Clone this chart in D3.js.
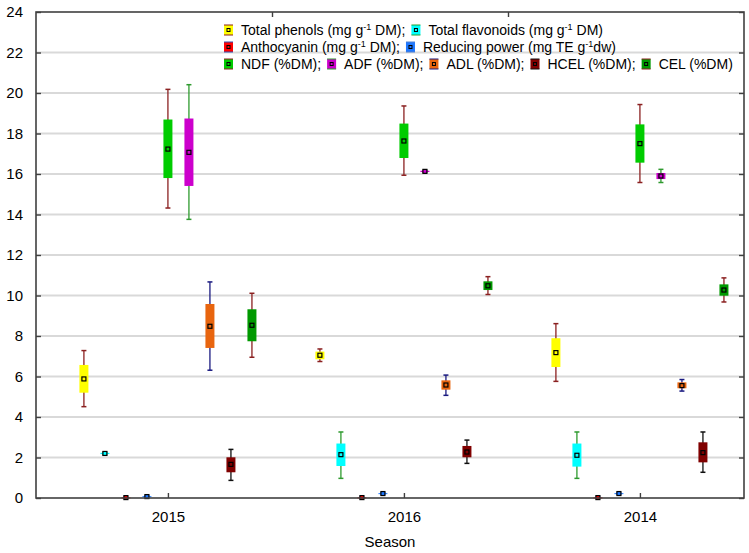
<!DOCTYPE html>
<html>
<head>
<meta charset="utf-8">
<script src="https://cdn.jsdelivr.net/npm/d3@7"></script>
<style>
body { margin: 0; background: #fff; }
text { font-family: "Liberation Sans", Arial, sans-serif; fill: #000; }
</style>
</head>
<body>
<svg id="svg"></svg>
<script>
const seasons = ["2015", "2016", "2014"]
const yTicks = d3.range(0, 25, 2)

// per season: [whisker low, box low, mean, box high, whisker high]
const phenols     = [[4.51, 5.20, 5.88, 6.57, 7.28], [6.74, 6.85, 7.05, 7.23, 7.36], [5.76, 6.47, 7.18, 7.89, 8.61]]
const flavonoids  = [[2.14, 2.17, 2.20, 2.23, 2.26], [0.97, 1.58, 2.14, 2.69, 3.26], [0.97, 1.55, 2.11, 2.69, 3.26]]
const anthocyanin = [[0.00, 0.01, 0.02, 0.03, 0.04], [0.00, 0.01, 0.02, 0.03, 0.04], [0.00, 0.01, 0.02, 0.03, 0.04]]
const reducing    = [[0.03, 0.05, 0.07, 0.09, 0.11], [0.18, 0.20, 0.22, 0.24, 0.26], [0.18, 0.20, 0.22, 0.24, 0.26]]
const ndf         = [[14.32, 15.80, 17.23, 18.69, 20.18], [15.94, 16.79, 17.63, 18.49, 19.36], [15.58, 16.56, 17.50, 18.45, 19.43]]
const adf         = [[13.76, 15.41, 17.07, 18.74, 20.41], [16.08, 16.10, 16.13, 16.16, 16.18], [15.58, 15.75, 15.90, 16.05, 16.23]]
const adl         = [[6.31, 7.41, 8.48, 9.58, 10.67], [5.07, 5.35, 5.58, 5.81, 6.07], [5.28, 5.42, 5.55, 5.71, 5.85]]
const hcel        = [[0.87, 1.27, 1.66, 2.01, 2.40], [1.71, 2.01, 2.27, 2.57, 2.86], [1.27, 1.76, 2.24, 2.75, 3.26]]
const cel         = [[6.95, 7.74, 8.53, 9.32, 10.11], [10.05, 10.27, 10.48, 10.70, 10.93], [9.68, 9.99, 10.27, 10.55, 10.87]]

const series = [phenols, flavonoids, anthocyanin, reducing, ndf, adf, adl, hcel, cel]

// legend text: [before superscript, superscript, after]
const seriesNames = [
    ["Total phenols (mg g", "-1", " DM)"],
    ["Total flavonoids (mg g", "-1", " DM)"],
    ["Anthocyanin (mg g", "-1", " DM)"],
    ["Reducing power (mg TE g", "-1", "dw)"],
    ["NDF (%DM)", "", ""],
    ["ADF (%DM)", "", ""],
    ["ADL (%DM)", "", ""],
    ["HCEL (%DM)", "", ""],
    ["CEL (%DM)", "", ""]
]
const legendRows = [[0, 1], [2, 3], [4, 5, 6, 7, 8]]

const boxColors = ["#ffff00", "#00ffff", "#ff0000", "#1e78ff", "#00cc00", "#cc00cc", "#e8650f", "#800000", "#009900"]
const whiskerColors = ["#8b2020", "#2e9a2e", "#3050b0", "#5080d0", "#8b2020", "#2e9a2e", "#1a1a80", "#101010", "#8b2020"]

const width = 749, height = 553
const margin = {top: 12, right: 5, bottom: 55, left: 36}
const boxWidth = 9, capWidth = 5
const axisColor = "#404040"

const svg = d3.select("#svg")
    .attr("width", width)
    .attr("height", height)

const band = d3.scaleBand()
    .domain(seasons)
    .range([margin.left, width - margin.right])

// tick sits on the middle (5th) box, a bit right of the band centre
const center = d3.scaleOrdinal()
    .domain(seasons)
    .range(seasons.map(s => band(s) + band.bandwidth() * 0.559))
const slot = band.bandwidth() * 0.089

const y = d3.scaleLinear()
    .domain([0, 24])
    .range([height - margin.bottom, margin.top])

// grid
svg.append("g")
    .selectAll("line")
    .data(yTicks.filter(t => t > 0 && t < 24))
    .join("line")
    .attr("x1", margin.left)
    .attr("x2", width - margin.right)
    .attr("y1", d => y(d))
    .attr("y2", d => y(d))
    .attr("stroke", "#d9d9d9")
    .attr("stroke-width", 2)

// boxes
series.forEach((values, k) => {
    const g = svg.append("g")
    values.forEach((v, i) => {
        const cx = center(seasons[i]) + (k - 4) * slot
        const [wLo, bLo, mid, bHi, wHi] = v
        g.append("line")
            .attr("x1", cx).attr("x2", cx)
            .attr("y1", y(wLo)).attr("y2", y(wHi))
            .attr("stroke", whiskerColors[k])
            .attr("stroke-width", 1.3)
        ;[wLo, wHi].forEach(w => {
            g.append("line")
                .attr("x1", cx - capWidth / 2).attr("x2", cx + capWidth / 2)
                .attr("y1", y(w)).attr("y2", y(w))
                .attr("stroke", whiskerColors[k])
                .attr("stroke-width", 1.5)
        })
        g.append("rect")
            .attr("x", cx - boxWidth / 2)
            .attr("y", y(bHi))
            .attr("width", boxWidth)
            .attr("height", Math.max(y(bLo) - y(bHi), 1))
            .attr("fill", boxColors[k])
        g.append("rect")
            .attr("x", cx - 2)
            .attr("y", y(mid) - 2)
            .attr("width", 4)
            .attr("height", 4)
            .attr("fill", boxColors[k])
            .attr("stroke", "#000")
            .attr("stroke-width", 1.2)
    })
})

// axes (domain lines replaced by the frame below)
const axisStyle = g => g.call(a => a.select(".domain").remove())
    .call(a => a.selectAll(".tick line").attr("stroke", axisColor).attr("stroke-width", 1.4))
    .call(a => a.selectAll("text").attr("font-size", 15).attr("fill", "#000"))

svg.append("g")
    .attr("transform", `translate(${margin.left},0)`)
    .call(d3.axisLeft(y).tickValues(yTicks).tickSizeInner(-5).tickSizeOuter(0).tickPadding(13))
    .call(axisStyle)

svg.append("g")
    .attr("transform", `translate(${width - margin.right},0)`)
    .call(d3.axisRight(y).tickValues(yTicks).tickSizeInner(-5).tickSizeOuter(0).tickFormat(""))
    .call(axisStyle)

svg.append("g")
    .attr("transform", `translate(0,${height - margin.bottom})`)
    .call(d3.axisBottom(center).tickSizeInner(-5).tickSizeOuter(0).tickPadding(13))
    .call(axisStyle)

svg.append("g")
    .attr("transform", `translate(0,${margin.top})`)
    .call(d3.axisTop(d3.scaleOrdinal().domain(seasons.slice(1)).range(seasons.slice(1).map(s => band(s))))
        .tickSizeInner(-5).tickSizeOuter(0).tickFormat(""))
    .call(axisStyle)

svg.append("rect")
    .attr("x", margin.left)
    .attr("y", margin.top)
    .attr("width", width - margin.left - margin.right)
    .attr("height", height - margin.top - margin.bottom)
    .attr("fill", "none")
    .attr("stroke", axisColor)
    .attr("stroke-width", 1.6)

svg.append("text")
    .attr("x", (margin.left + width - margin.right) / 2)
    .attr("y", height - 6)
    .attr("text-anchor", "middle")
    .attr("font-size", 15)
    .text("Season")

// legend
const legend = svg.append("g")
const legendX = 224, legendY = 30, rowGap = 17

legendRows.forEach((row, r) => {
    let x = legendX
    const cy = legendY + r * rowGap
    row.forEach((k, j) => {
        legend.append("rect")
            .attr("x", x).attr("y", cy - 5)
            .attr("width", 9).attr("height", 10)
            .attr("fill", boxColors[k])
        ;[cy - 5, cy + 5].forEach(ly => {
            legend.append("line")
                .attr("x1", x).attr("x2", x + 9)
                .attr("y1", ly).attr("y2", ly)
                .attr("stroke", whiskerColors[k])
                .attr("stroke-width", 1)
        })
        legend.append("rect")
            .attr("x", x + 3).attr("y", cy - 1.5)
            .attr("width", 3).attr("height", 3)
            .attr("fill", "none")
            .attr("stroke", "#000")
            .attr("stroke-width", 1)
        x += 17
        const [pre, sup, post] = seriesNames[k]
        const t = legend.append("text")
            .attr("x", x).attr("y", cy + 5)
            .attr("font-size", 14)
        t.append("tspan").text(pre)
        if (sup) {
            t.append("tspan").attr("font-size", 9).attr("dy", -5).text(sup)
            t.append("tspan").attr("dy", 5).text(post)
        }
        if (j < row.length - 1) t.append("tspan").text(";")
        x += t.node().getComputedTextLength() + 6
    })
})
</script>
</body>
</html>
